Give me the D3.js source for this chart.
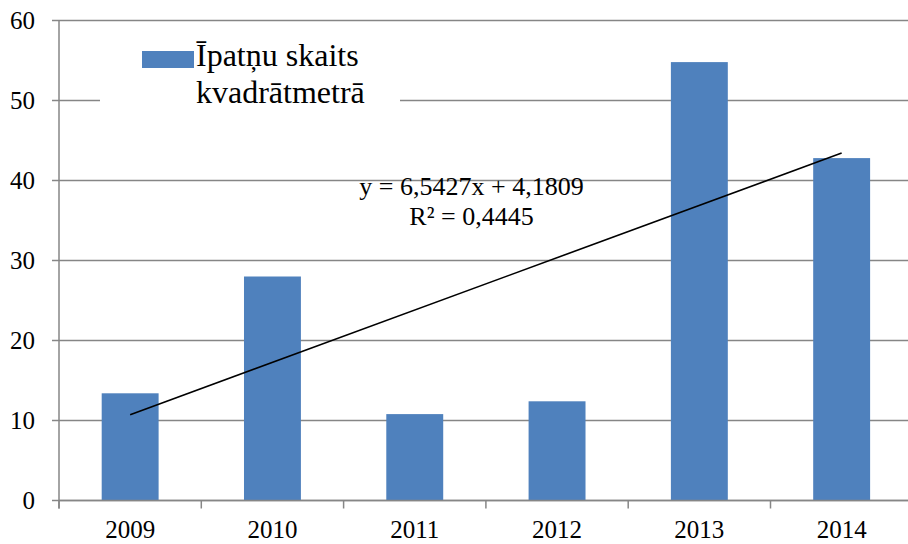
<!DOCTYPE html>
<html lang="lv">
<head>
  <meta charset="utf-8">
  <title>Īpatņu skaits kvadrātmetrā</title>
  <script src="https://cdnjs.cloudflare.com/ajax/libs/d3/7.8.5/d3.min.js"></script>
  <style>
    body { margin: 0; background: #fff; }
    text { font-family: "Liberation Serif", "Times New Roman", serif; fill: #000; }
    .grid line { stroke: #868686; stroke-width: 1.5; }
  </style>
</head>
<body>
  <script>
    var years = ['2009', '2010', '2011', '2012', '2013', '2014'];
    var values = [13.4, 28, 10.8, 12.4, 54.8, 42.8];
    var yTicks = [0, 10, 20, 30, 40, 50, 60];
    var slope = 6.5427, intercept = 4.1809;
    var legendLines = ['Īpatņu skaits', 'kvadrātmetrā'];
    var eqLines = ['y = 6,5427x + 4,1809', 'R² = 0,4445'];

    var w = 908, h = 544;
    var padLeft = 59, padTop = 20.5, baseY = 500.5;
    var band = 142.3;

    var svg = d3.select('body').append('svg')
      .attr('width', w)
      .attr('height', h);

    var xScale = d3.scaleBand()
      .domain(years)
      .range([padLeft, padLeft + band * years.length])
      .paddingInner(0.6)
      .paddingOuter(0.3);

    var yScale = d3.scaleLinear()
      .domain([0, 60])
      .range([baseY, padTop]);

    // gridlines + y ticks
    var grid = svg.append('g').attr('class', 'grid');
    grid.selectAll('line')
      .data(yTicks)
      .enter().append('line')
      .attr('x1', padLeft - 7)
      .attr('x2', w)
      .attr('y1', d => yScale(d))
      .attr('y2', d => yScale(d));

    svg.append('g')
      .selectAll('text')
      .data(yTicks)
      .enter().append('text')
      .attr('x', 35)
      .attr('y', d => yScale(d) + 8)
      .attr('text-anchor', 'end')
      .attr('font-size', 25)
      .text(d => d);

    // bars
    svg.append('g')
      .selectAll('rect')
      .data(values)
      .enter().append('rect')
      .attr('x', (d, i) => xScale(years[i]))
      .attr('width', xScale.bandwidth())
      .attr('y', d => yScale(d))
      .attr('height', d => yScale(0) - yScale(d))
      .attr('fill', '#4F81BD');

    // axis lines and category ticks
    var axisG = svg.append('g').attr('class', 'grid');
    axisG.append('line')
      .attr('x1', padLeft).attr('x2', padLeft)
      .attr('y1', padTop).attr('y2', baseY + 8);
    axisG.append('line')
      .attr('x1', padLeft).attr('x2', w)
      .attr('y1', baseY).attr('y2', baseY);
    axisG.selectAll('.xt')
      .data(d3.range(years.length + 1))
      .enter().append('line')
      .attr('class', 'xt')
      .attr('x1', i => padLeft + i * band)
      .attr('x2', i => padLeft + i * band)
      .attr('y1', baseY)
      .attr('y2', baseY + 8);

    svg.append('g')
      .selectAll('text')
      .data(years)
      .enter().append('text')
      .attr('x', d => xScale(d) + xScale.bandwidth() / 2)
      .attr('y', 538)
      .attr('text-anchor', 'middle')
      .attr('font-size', 25)
      .text(d => d);

    // linear trendline from first to last category
    var trend = d3.line()
      .x(d => xScale(d) + xScale.bandwidth() / 2)
      .y(d => yScale(slope * (years.indexOf(d) + 1) + intercept));
    svg.append('path')
      .datum([years[0], years[years.length - 1]])
      .attr('d', trend)
      .attr('fill', 'none')
      .attr('stroke', '#000')
      .attr('stroke-width', 1.6);

    svg.append('g')
      .selectAll('text')
      .data(eqLines)
      .enter().append('text')
      .attr('x', 471.5)
      .attr('y', (d, i) => 195 + i * 30)
      .attr('text-anchor', 'middle')
      .attr('font-size', 26)
      .text(d => d);

    // legend
    var legend = svg.append('g');
    legend.append('rect')
      .attr('x', 100).attr('y', 36)
      .attr('width', 300).attr('height', 78)
      .attr('fill', '#fff');
    legend.append('rect')
      .attr('x', 142).attr('y', 51)
      .attr('width', 52).attr('height', 17)
      .attr('fill', '#4F81BD');
    legend.selectAll('text')
      .data(legendLines)
      .enter().append('text')
      .attr('x', 196)
      .attr('y', (d, i) => 66 + i * 37)
      .attr('font-size', 32)
      .text(d => d);
  </script>
</body>
</html>
